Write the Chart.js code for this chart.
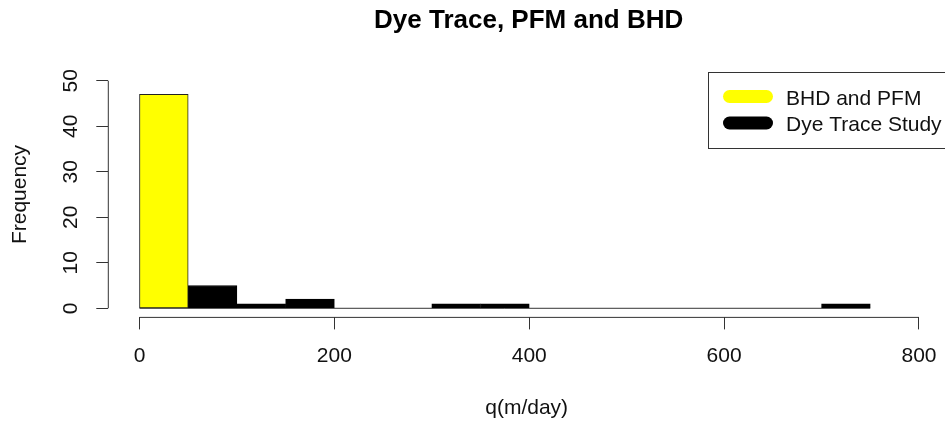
<!DOCTYPE html>
<html>
<head>
<meta charset="utf-8">
<script src="https://cdn.jsdelivr.net/npm/chart.js@4.4.1/dist/chart.umd.min.js"></script>
<style>
body{margin:0;background:#fff;}
#wrap{width:945px;height:423px;position:relative;}
</style>
</head>
<body>
<div id="wrap"><canvas id="histChart"></canvas></div>
<script>
// histogram bins of q (m/day), 50 wide
const binStarts = [0,50,100,150,200,250,300,350,400,450,500,550,600,650,700];
const binWidth = 50;
const bhdPfm   = [47,0,0,0,0,0,0,0,0,0,0,0,0,0,0];
const dyeTrace = [0,5,1,2,0,0,1,1,0,0,0,0,0,0,1];
const xTicks = [0,200,400,600,800];
const yTicks = [0,10,20,30,40,50];
const legendLabels = ['BHD and PFM','Dye Trace Study'];
const legendColors = ['#ffff00','#000000'];

const FONT = "'Liberation Sans', Arial, sans-serif";
const INK = '#333';

function toPoints(counts){
    return binStarts
        .map((b,i) => ({x: b + binWidth/2, y: counts[i]}))
        .filter(p => p.y > 0);
}

// R-style pieces: axis lines over the tick range, zero baseline, title, legend
const rStyle = {
    id: 'rStyle',
    beforeDatasetsDraw(chart){
        const {ctx, scales:{x, y}} = chart;
        const y0 = y.getPixelForValue(0);
        ctx.save();
        ctx.strokeStyle = INK;
        ctx.lineWidth = 1;
        ctx.beginPath();
        ctx.moveTo(x.getPixelForValue(binStarts[0]), y0);
        ctx.lineTo(x.getPixelForValue(binStarts[binStarts.length-1] + binWidth), y0);
        ctx.stroke();
        ctx.restore();
    },
    afterDraw(chart){
        const {ctx, chartArea, scales:{x, y}} = chart;
        ctx.save();
        ctx.strokeStyle = INK;
        ctx.lineWidth = 1;
        // x axis
        ctx.beginPath();
        ctx.moveTo(x.getPixelForValue(xTicks[0]), chartArea.bottom);
        ctx.lineTo(x.getPixelForValue(xTicks[xTicks.length-1]), chartArea.bottom);
        // y axis
        ctx.moveTo(chartArea.left, y.getPixelForValue(yTicks[0]));
        ctx.lineTo(chartArea.left, y.getPixelForValue(yTicks[yTicks.length-1]));
        ctx.stroke();

        // title
        ctx.fillStyle = '#000';
        ctx.font = 'bold 26px ' + FONT;
        ctx.textAlign = 'center';
        ctx.textBaseline = 'middle';
        ctx.fillText('Dye Trace, PFM and BHD', (chartArea.left + chartArea.right)/2 + 2, 21);

        // legend
        ctx.strokeRect(708.5, 72.5, 300, 76);
        ctx.font = '21px ' + FONT;
        ctx.textAlign = 'left';
        legendLabels.forEach((lab, i) => {
            const ly = 96.5 + i*26.5;
            ctx.strokeStyle = legendColors[i];
            ctx.lineWidth = 13;
            ctx.lineCap = 'round';
            ctx.beginPath();
            ctx.moveTo(729.5, ly);
            ctx.lineTo(766.5, ly);
            ctx.stroke();
            ctx.fillStyle = '#111';
            ctx.fillText(lab, 786, ly + 2.5);
        });
        ctx.restore();
    }
};

new Chart(
document.getElementById('histChart'),
{
    type:'bar',
    data:{
        datasets:[{
            label: legendLabels[0],
            data: toPoints(bhdPfm),
            backgroundColor: legendColors[0],
            borderColor: '#222',
            borderWidth: 1,
            borderSkipped: false,
            barPercentage: 1,
            categoryPercentage: 1,
            grouped: false
        },{
            label: legendLabels[1],
            data: toPoints(dyeTrace),
            backgroundColor: legendColors[1],
            borderColor: '#000',
            borderWidth: 1,
            borderSkipped: false,
            barPercentage: 1,
            categoryPercentage: 1,
            grouped: false
        }]
    },
    options:{
        responsive: true,
        maintainAspectRatio: false,
        animation: false,
        layout:{ padding:{ top:71.6, left:0, right:0, bottom:0 } },
        plugins:{
            legend:{ display:false },
            tooltip:{ enabled:false }
        },
        scales:{
            x:{
                type:'linear',
                offset:false,
                min:-32,
                max:826.7,
                afterBuildTicks: s => { s.ticks = xTicks.map(v => ({value:v})); },
                afterFit: s => { s.height = 105.6; s.paddingLeft = 0; s.paddingRight = 0; },
                grid:{ offset:false, drawOnChartArea:false, drawTicks:true, tickLength:12, color:INK },
                border:{ display:false },
                ticks:{ font:{family:FONT, size:21}, color:'#111', padding:14.6, maxRotation:0, autoSkip:false },
                title:{ display:true, text:'q(m/day)', font:{family:FONT, size:21}, color:'#111', padding:{top:0, bottom:2.4} }
            },
            y:{
                min:-2,
                max:52,
                afterBuildTicks: s => { s.ticks = yTicks.map(v => ({value:v})); },
                afterFit: s => { s.width = 108.3; s.paddingTop = 0; s.paddingBottom = 0; },
                grid:{ drawOnChartArea:false, drawTicks:true, tickLength:12, color:INK },
                border:{ display:false },
                ticks:{ font:{family:FONT, size:21}, color:'#111', padding:13.6, minRotation:90, maxRotation:90, crossAlign:'center', autoSkip:false },
                title:{ display:true, text:'Frequency', font:{family:FONT, size:21}, color:'#111', padding:{top:7.4, bottom:0} }
            }
        }
    },
    plugins:[rStyle]
});
</script>
</body>
</html>
